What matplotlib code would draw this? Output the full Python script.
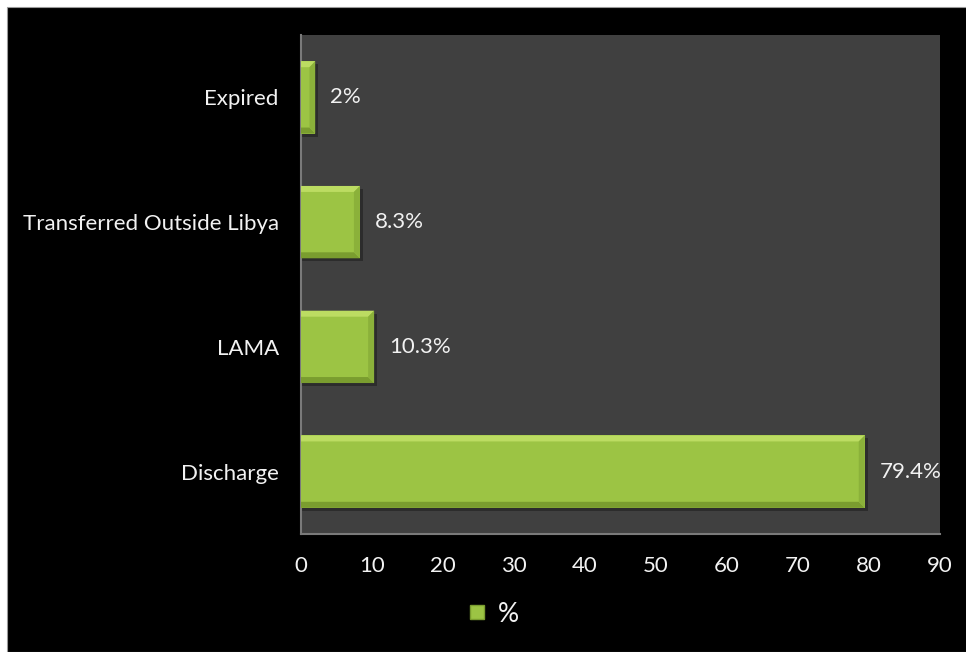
import matplotlib
matplotlib.use("Agg")
import matplotlib.pyplot as plt
from matplotlib.patches import Rectangle, Polygon
from matplotlib.lines import Line2D

categories = ["Discharge", "LAMA", "Transferred Outside Libya", "Expired"]
values = [79.4, 10.3, 8.3, 2.0]
value_labels = ["79.4%", "10.3%", "8.3%", "2%"]
xticks = [0, 10, 20, 30, 40, 50, 60, 70, 80, 90]
series_name = "%"

plt.rcParams["font.family"] = ["Lato", "DejaVu Sans"]

W, H = 966, 652
fig = plt.figure(figsize=(W / 100, H / 100), dpi=100)
fig.patch.set_facecolor("white")
# black slide background with a thin white margin at top/left
fig.add_artist(Rectangle((7 / W, 0), 1, 1 - 7 / H, transform=fig.transFigure,
                         facecolor="black", edgecolor="#9a9a9a", lw=0.8, zorder=0))

left, right, top, bottom = 301, 940, 35, 534
ax = fig.add_axes([left / W, 1 - bottom / H, (right - left) / W, (bottom - top) / H])
ax.set_facecolor("#404040")
ax.set_xlim(0, 90)
ax.set_ylim(-0.5, len(categories) - 0.5)

bar_h = 0.58
ypos = list(range(len(categories)))
bars = ax.barh(ypos, values, height=bar_h, color="#9cc444", edgecolor="none", zorder=3)

# pixel -> data scale for bevel decoration
px_x = 90 / (right - left)
px_y = len(categories) / (bottom - top)
bev_x, bev_y = 6 * px_x, 6 * px_y

for b in bars:
    x0, y0 = b.get_x(), b.get_y()
    w, h = b.get_width(), b.get_height()
    x1, y1 = x0 + w, y0 + h
    bx = min(bev_x, w / 2.5)
    # drop shadow
    ax.add_patch(Rectangle((x0, y0 - 3 * px_y), w + 3 * px_x, h, facecolor="black",
                           alpha=0.3, edgecolor="none", zorder=2))
    # bevel faces
    ax.add_patch(Polygon([(x0, y1), (x1, y1), (x1 - bx, y1 - bev_y), (x0, y1 - bev_y)],
                         facecolor="#bcdc62", edgecolor="none", zorder=4))
    ax.add_patch(Polygon([(x0, y0), (x1, y0), (x1 - bx, y0 + bev_y), (x0, y0 + bev_y)],
                         facecolor="#7a9d2f", edgecolor="none", zorder=4))
    ax.add_patch(Polygon([(x1, y0), (x1, y1), (x1 - bx, y1 - bev_y), (x1 - bx, y0 + bev_y)],
                         facecolor="#8bb13a", edgecolor="none", zorder=4))

for b, lab in zip(bars, value_labels):
    ax.text(b.get_width() + 15 * px_x, b.get_y() + b.get_height() / 2, lab,
            color="#f2f2f2", fontsize=16, va="center", ha="left", zorder=5)

ax.set_yticks(ypos)
ax.set_yticklabels(categories)
ax.set_xticks(xticks)
ax.tick_params(axis="both", length=0, colors="#f2f2f2", labelsize=16)
ax.tick_params(axis="y", pad=16)
ax.tick_params(axis="x", pad=16)
for s in ["top", "right"]:
    ax.spines[s].set_visible(False)
for s in ["left", "bottom"]:
    ax.spines[s].set_color("#7a7a7a")
    ax.spines[s].set_linewidth(1.5)

handle = Line2D([], [], marker="s", linestyle="none", markersize=10,
                markerfacecolor="#9cc444", markeredgecolor="#7a9d2f")
leg = fig.legend([handle], [series_name], loc="center", bbox_to_anchor=(0.51, 1 - 614 / H),
                 frameon=False, fontsize=19, handlelength=0.8, handletextpad=0.4,
                 labelcolor="#f2f2f2")

fig.savefig("out.png", dpi=100, facecolor=fig.get_facecolor())
